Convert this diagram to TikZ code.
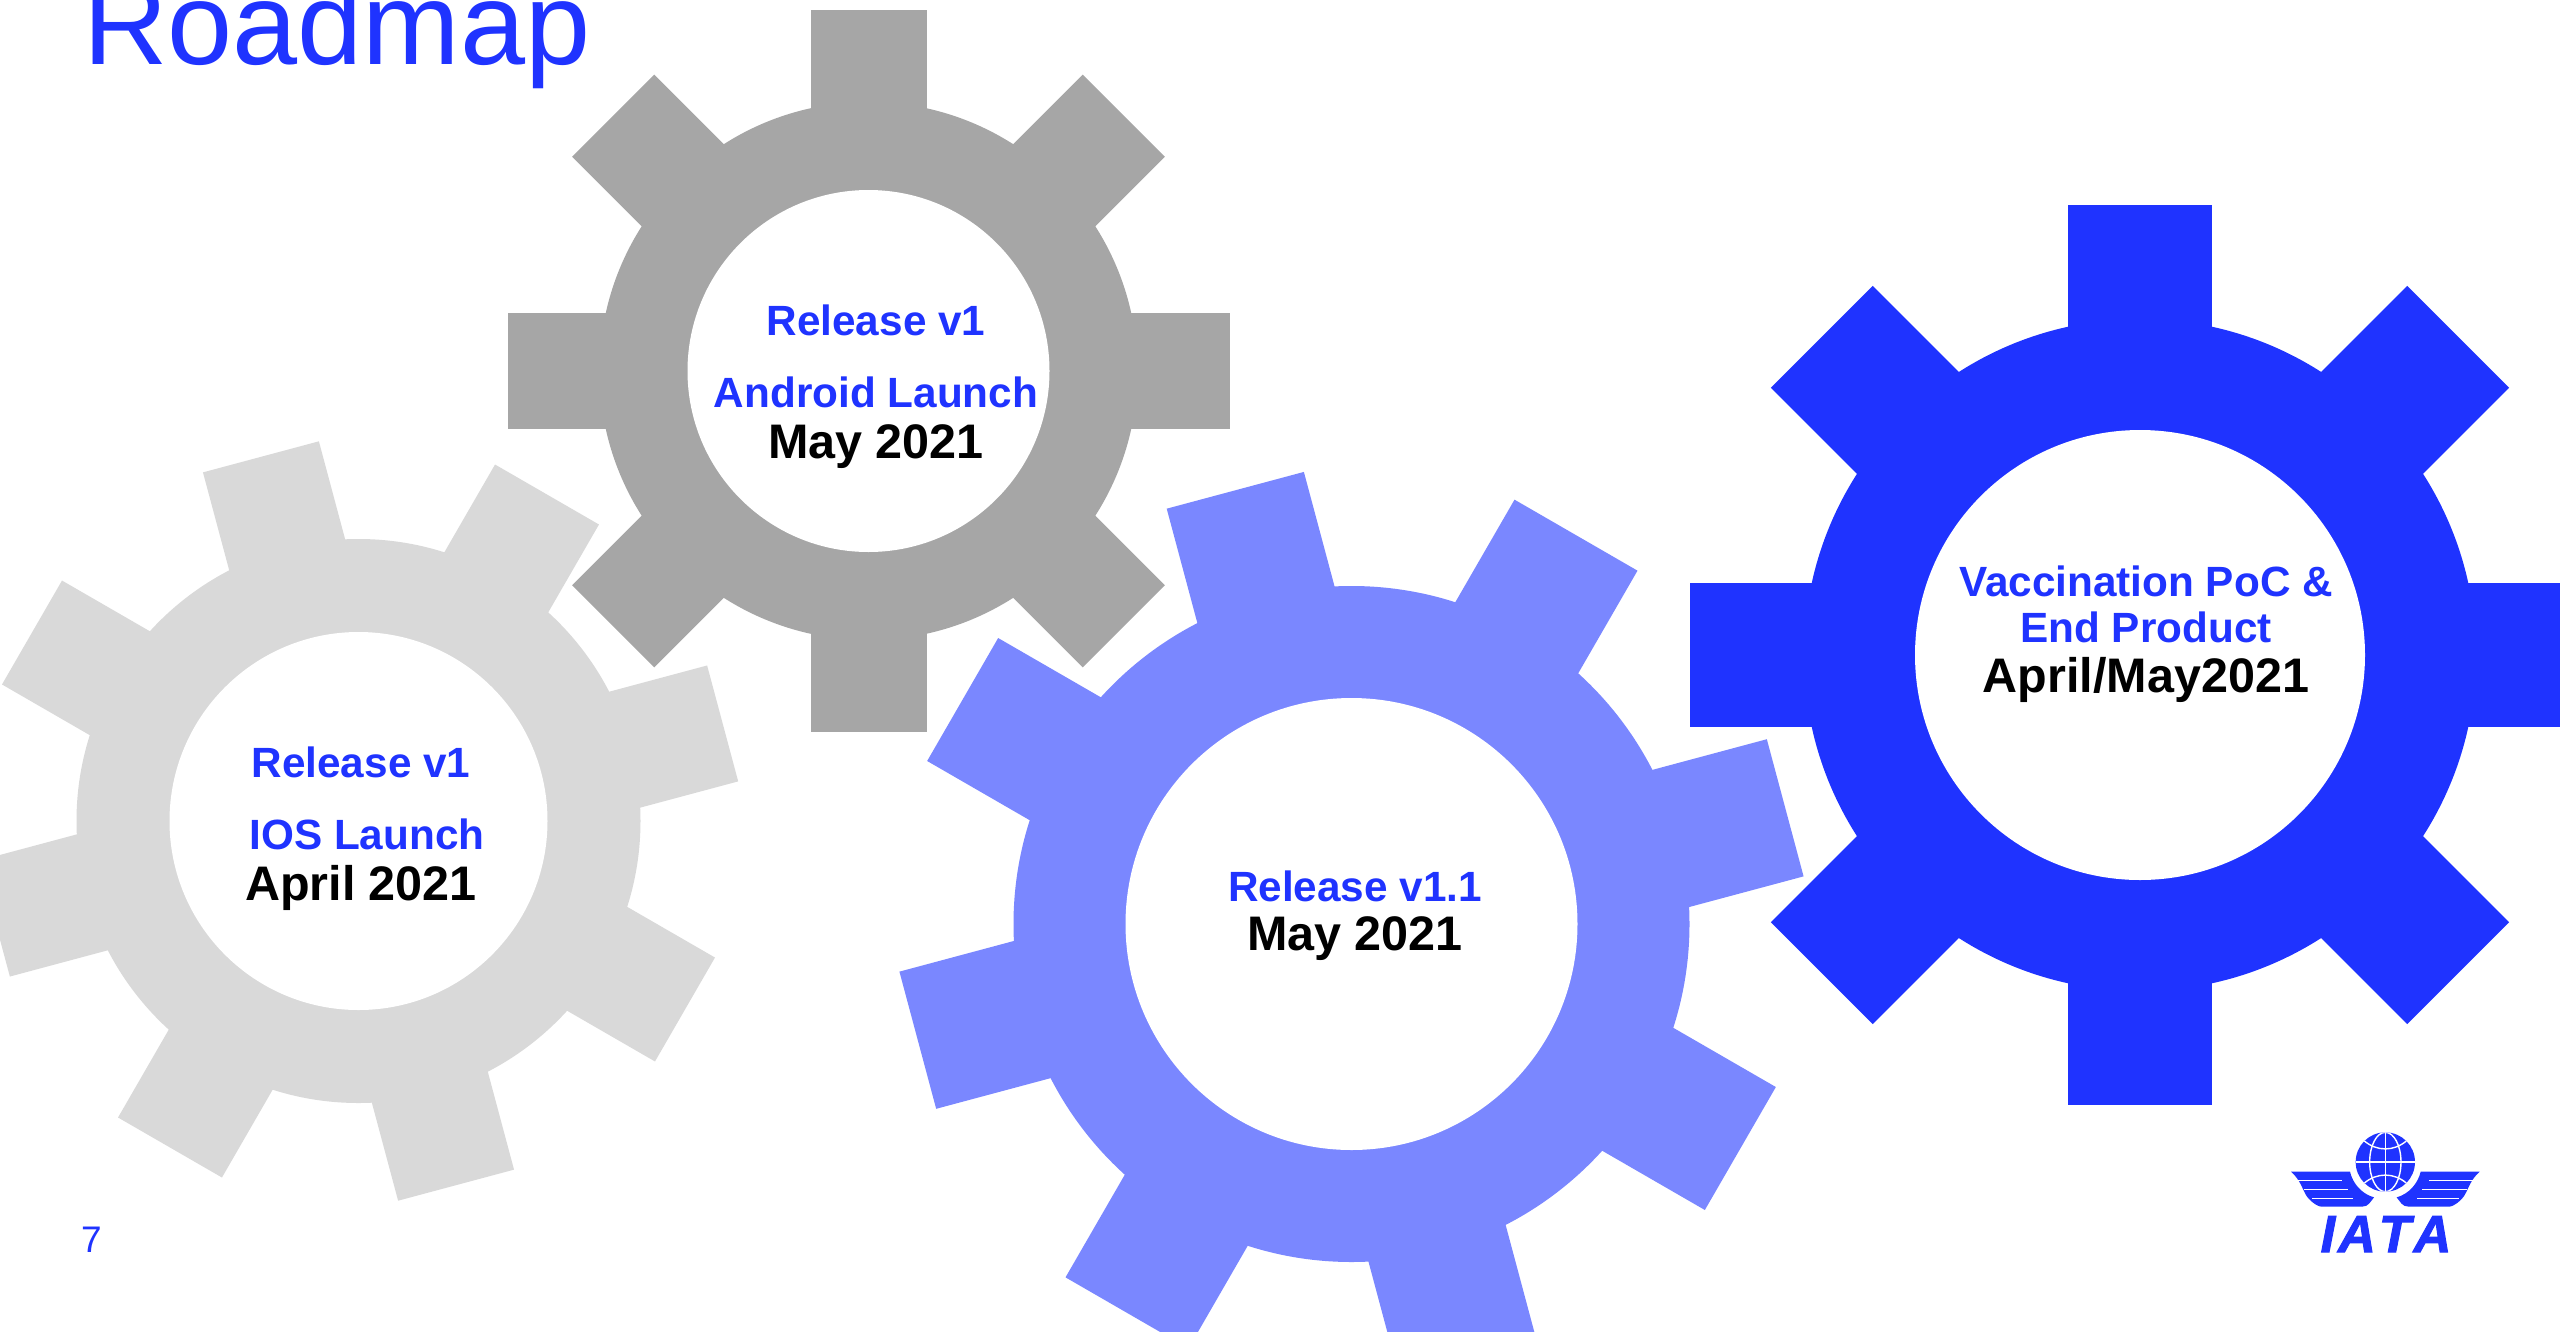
\documentclass[tikz,border=0pt]{standalone}
\usepackage{fontspec}
\setmainfont{Liberation Sans}
\definecolor{iatablue}{HTML}{1F33FF}
\definecolor{peri}{HTML}{7A87FF}
\definecolor{midgray}{HTML}{A6A6A6}
\definecolor{lightgray2}{HTML}{D9D9D9}
\newcommand{\gearshape}[8]{% x y R ring hole halfwidth rot colour
  \fill[#8] (#1,#2) circle[radius=#4];
  \foreach \k in {0,45,90,135}{
    \begin{scope}[shift={(#1,#2)},rotate=#7+\k]
      \fill[#8] (-#3,-#6) rectangle (#3,#6);
    \end{scope}
  }
  \fill[white] (#1,#2) circle[radius=#5];
}
\tikzset{
  x=1pt,y=-1pt,
  bluetext/.style={anchor=base,inner sep=0pt,font=\fontsize{42.3}{43}\selectfont\bfseries,text=iatablue},
  blacktext/.style={anchor=base,inner sep=0pt,font=\fontsize{48.5}{49}\selectfont\bfseries,text=black},
  globeline/.style={draw=white,line width=1.4pt},
}
\begin{document}
\begin{tikzpicture}
\useasboundingbox (0,0) rectangle (2560,1331);
\clip (0,0) rectangle (2560,1331);
\fill[white] (0,0) rectangle (2560,1331);
\node[anchor=base west,inner sep=0pt,text=iatablue,font=\fontsize{117}{117}\selectfont] (title) at (83,64) {Roadmap};
\gearshape{358.5}{821}{377}{282}{189}{60}{15}{lightgray2}
\gearshape{868.5}{371}{361}{269}{181}{58}{0}{midgray}
\gearshape{1351.5}{924}{449}{338}{226}{71}{15}{peri}
\gearshape{2140}{655}{450}{336}{225}{72}{0}{iatablue}
\node[bluetext] (a1) at (361,777) {Release v1};
\node[bluetext] (a2) at (367,849) {IOS Launch};
\node[blacktext] (a3) at (361,900) {April 2021};
\node[bluetext] (b1) at (876,335) {Release v1};
\node[bluetext] (b2) at (876,407) {Android Launch};
\node[blacktext] (b3) at (876,458) {May 2021};
\node[bluetext] (c1) at (1355,901) {Release v1.1};
\node[blacktext] (c2) at (1355,950) {May 2021};
\node[bluetext] (d1) at (2146,596) {Vaccination PoC \&};
\node[bluetext] (d2) at (2146,642) {End Product};
\node[blacktext] (d3) at (2146,692) {April/May2021};
\node[anchor=base west,inner sep=0pt,text=iatablue,font=\fontsize{37}{37}\selectfont] (page) at (81,1252) {7};
% logo
\begin{scope}[shift={(2240,1100)},x=0.3333pt,y=-0.3333pt]
  \fill[iatablue] (436,186) circle[radius=89];
  \begin{scope}
    \clip (436,186) circle[radius=89];
    \draw[globeline] (347,186) -- (525,186);
    \draw[globeline] (436,97) -- (436,275);
    \draw[globeline] (436,186) ellipse[x radius=47,y radius=89];
    \draw[globeline] (372,122) .. controls (410,155) and (462,155) .. (500,122);
    \draw[globeline] (372,250) .. controls (410,217) and (462,217) .. (500,250);
  \end{scope}
  \foreach \s in {-1,1}{
    \fill[iatablue] ({436+\s*283},215) -- ({436+\s*106},215)
      .. controls ({436+\s*98},250) and ({436+\s*71},282) .. ({436+\s*34},292)
      .. controls ({436+\s*45},305) and ({436+\s*50},320) .. ({436+\s*70},320)
      -- ({436+\s*191},320)
      .. controls ({436+\s*205},320) and ({436+\s*230},300) .. ({436+\s*238},285)
      .. controls ({436+\s*250},265) and ({436+\s*255},240) .. ({436+\s*283},215) -- cycle;
    \draw[globeline] ({436+\s*270},241) -- ({436+\s*131},241);
    \draw[globeline] ({436+\s*245},268) -- ({436+\s*111},268);
    \draw[globeline] ({436+\s*220},296) -- ({436+\s*96},296);
  }
\end{scope}
\node[anchor=base,inner sep=0pt,text=iatablue,font=\fontsize{52}{52}\selectfont\bfseries\itshape] (iata) at (2386,1252) {\addfontfeatures{LetterSpace=6,Kerning=Off,FakeBold=2}IATA};
\end{tikzpicture}
\end{document}
